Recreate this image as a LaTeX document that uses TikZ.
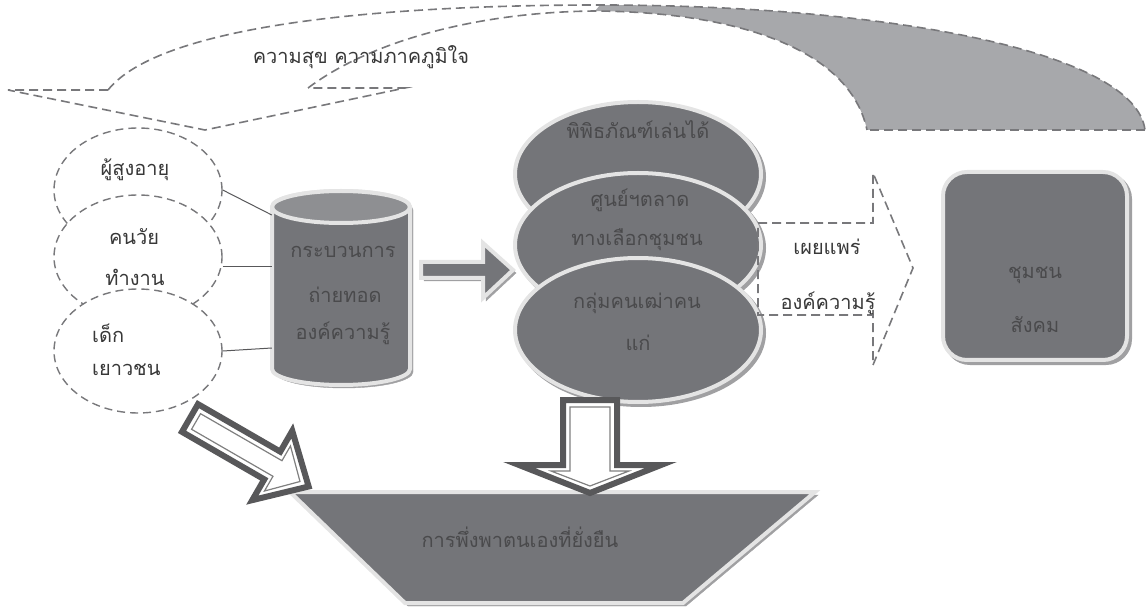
\documentclass[tikz,border=0pt]{standalone}
\usepackage{fontspec}
\newfontfamily\thaifont[Script=Thai]{Loma}
\usetikzlibrary{shapes.geometric,shadows}
\definecolor{boxfill}{HTML}{747579}
\definecolor{boxtop}{HTML}{8E8F92}
\definecolor{rimgray}{HTML}{E4E4E4}
\definecolor{shadegray}{HTML}{A0A0A2}
\definecolor{dashgray}{HTML}{78787B}
\definecolor{bandgray}{HTML}{A7A8AB}
\definecolor{inktext}{HTML}{4A4A4C}
\definecolor{darkline}{HTML}{58585A}

\begin{document}
\begin{tikzpicture}[x=1pt, y=-1pt,
	txt/.style={font=\thaifont\fontsize{20}{24}\selectfont, text=black!78, inner sep=0pt},
	intxt/.style={txt, text=inktext},
	dashline/.style={dashgray, line width=1.6pt, dash pattern=on 9pt off 5pt},
	person/.style={ellipse, draw=dashgray, line width=1.4pt, dash pattern=on 8pt off 5pt, fill=white, minimum width=168pt, minimum height=124pt, inner sep=0pt},
	solid3d/.style={fill=boxfill, draw=rimgray, line width=4pt, copy shadow={shadow xshift=3pt, shadow yshift=-3pt, fill=shadegray, draw=shadegray}},
	bubble/.style={solid3d, ellipse, minimum width=246pt, minimum height=144pt, inner sep=0pt},
	hollowout/.style={draw=darkline, line width=6pt, fill=white, line join=miter},
	hollowin/.style={draw=gray, line width=1.2pt}
]
	\useasboundingbox (0,0) rectangle (1148,609);

	\fill[bandgray] (595,11) .. controls (740,12) and (850,50) .. (867,130) -- (1145,130) .. controls (1135,50) and (880,5) .. (600,5) -- cycle;
	\draw[dashline] (1145,130) -- (867,130);
	\draw[dashline] (108,90) .. controls (160,25) and (380,5) .. (600,5) .. controls (880,5) and (1135,50) .. (1145,130);
	\draw[dashline] (308,88) .. controls (372,40) and (480,12) .. (595,11) .. controls (740,12) and (850,50) .. (867,130);
	\draw[dashline] (108,90) -- (8,90) -- (205,130) -- (405,88) -- (308,88);
	\node[txt] (pride) at (361,57) {ความสุข ความภาคภูมิใจ};

	\node[person] (elder) at (138,190) {};
	\node[person] (worker) at (138,257) {};
	\node[person] (youth) at (138,351) {};
	\node[txt] (elderlbl) at (135,170) {ผู้สูงอายุ};
	\node[txt] (workerlbl1) at (134,237) {คนวัย};
	\node[txt] (workerlbl2) at (135,277) {ทำงาน};
	\node[txt, anchor=west] (youthlbl1) at (92,333) {เด็ก};
	\node[txt, anchor=west] (youthlbl2) at (92,370) {เยาวชน};

	\path[solid3d] (272,207) -- (272,369) arc[start angle=180, end angle=0, x radius=69, y radius=16]
		-- (410,207) arc[start angle=0, end angle=-180, x radius=69, y radius=16] -- cycle;
	\filldraw[fill=boxtop, draw=rimgray, line width=4pt] (341,207) ellipse[x radius=69, y radius=16];
	\node[minimum width=138pt, minimum height=195pt, inner sep=0pt] (transfer) at (341,288) {};
	\draw[darkline, line width=1pt] (elder.east) -- ([yshift=73pt]transfer.west);
	\draw[darkline, line width=1pt] ([yshift=-10pt]worker.east) -- ([yshift=21pt]transfer.west);
	\draw[darkline, line width=1pt] (youth.east) -- ([yshift=-60pt]transfer.west);
	\node[intxt] (transferlbl1) at (343,252) {กระบวนการ};
	\node[intxt] (transferlbl2) at (345,295) {ถ่ายทอด};
	\node[intxt] (transferlbl3) at (343,333) {องค์ความรู้};

	\path[solid3d] (421,262) -- (483,262) -- (483,243) -- (513,270) -- (483,298) -- (483,278) -- (421,278) -- cycle;

	\node[bubble] (museum) at (638,174) {};
	\node[bubble] (market) at (638,245) {};
	\node[bubble] (elders) at (638,330) {};
	\node[intxt] (museumlbl) at (638,130) {พิพิธภัณฑ์เล่นได้};
	\node[intxt] (marketlbl1) at (640,200) {ศูนย์ฯตลาด};
	\node[intxt] (marketlbl2) at (637,240) {ทางเลือกชุมชน};
	\node[intxt] (elderslbl1) at (637,303) {กลุ่มคนเฒ่าคน};
	\node[intxt] (elderslbl2) at (638,343) {แก่};

	\draw[dashline] (758,223) -- (873,223) -- (873,173) -- (913,268) -- (873,365) -- (873,315) -- (758,315) -- cycle;
	\node[txt] (spreadlbl) at (827,247) {เผยแพร่};
	\node[txt] (knowlbl) at (828,303) {องค์ความรู้};

	\node[solid3d, rounded corners=24pt, minimum width=184pt, minimum height=188pt] (society) at (1035,266) {};
	\node[intxt] (societylbl1) at (1035,275) {ชุมชน};
	\node[intxt] (societylbl2) at (1035,325) {สังคม};

	\path[solid3d] (290,492) -- (815,492) -- (683,603) -- (405,603) -- cycle;
	\node[intxt] (selfrely) at (520,537) {การพึ่งพาตนเองที่ยั่งยืน};

	\draw[hollowout] (563,400) -- (617,400) -- (617,465) -- (661,465) -- (590,493) -- (519,465) -- (563,465) -- cycle;
	\draw[hollowin] (570,407) -- (610,407) -- (610,471) -- (629,471) -- (590,486) -- (551,471) -- (570,471) -- cycle;

	\begin{scope}[shift={(190,418)}, rotate=-30]
		\draw[hollowout] (0,-16) -- (95,-16) -- (95,-40) -- (137,0) -- (95,40) -- (95,16) -- (0,16) -- cycle;
		\draw[hollowin] (7,-9) -- (101,-9) -- (101,-26) -- (127,0) -- (101,26) -- (101,9) -- (7,9) -- cycle;
	\end{scope}

\end{tikzpicture}
\end{document}
